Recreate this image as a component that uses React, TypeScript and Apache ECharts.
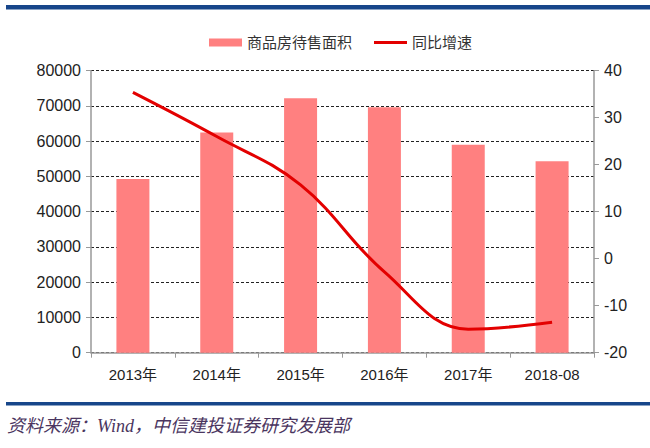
import React, { useEffect, useRef } from "react";
import * as echarts from "echarts";

const categories = ["2013年", "2014年", "2015年", "2016年", "2017年", "2018-08"];
const areaValues = [49300, 62500, 72200, 69600, 59000, 54300];
const growthValues = [35.4, 26.0, 15.7, -2.8, -15.0, -13.5];
const barName = "商品房待售面积";
const lineName = "同比增速";
const sourceText = "资料来源：Wind，中信建投证券研究发展部";

export default function App() {
  const ref = useRef<HTMLDivElement>(null);
  useEffect(() => {
    document.body.style.margin = "0";
    const chart = echarts.init(ref.current!, null, { renderer: "svg" });
    const labelFont = "Liberation Sans, Arial, Noto Sans CJK SC, sans-serif";
    chart.setOption({
      animation: false,
      backgroundColor: "#ffffff",
      textStyle: { fontFamily: labelFont },
      legend: {
        left: 204,
        top: 30,
        itemWidth: 33,
        itemHeight: 8,
        itemGap: 22,
        textStyle: { fontSize: 15, color: "#333" },
        data: [
          { name: barName, icon: "rect" },
          { name: lineName, icon: "path://M0,0h33v3h-33z" },
        ],
      },
      grid: { left: 91, right: 56, top: 70.7, bottom: 95.3 },
      xAxis: {
        type: "category",
        data: categories,
        axisLine: { lineStyle: { color: "#999", width: 1.5 } },
        axisTick: { show: true, length: 5, lineStyle: { color: "#999" } },
        axisLabel: { fontSize: 15, color: "#222", margin: 14 },
      },
      yAxis: [
        {
          type: "value",
          min: 0,
          max: 80000,
          interval: 10000,
          axisLine: { show: true, lineStyle: { color: "#999", width: 1.5 } },
          axisTick: { show: true, length: 5, lineStyle: { color: "#999" } },
          axisLabel: {
            fontSize: 16,
            color: "#222",
            margin: 10,
            formatter: (v: number) => String(v),
          },
          splitLine: {
            show: true,
            lineStyle: { color: "#222", type: [3, 2], width: 1.2 },
          },
        },
        {
          type: "value",
          min: -20,
          max: 40,
          interval: 10,
          position: "right",
          axisLine: { show: true, lineStyle: { color: "#999", width: 1.5 } },
          axisTick: { show: true, length: 5, lineStyle: { color: "#999" } },
          axisLabel: { fontSize: 16, color: "#222", margin: 10 },
          splitLine: { show: false },
        },
      ],
      series: [
        {
          name: barName,
          type: "bar",
          data: areaValues,
          barWidth: 33,
          itemStyle: { color: "#FF8080" },
        },
        {
          name: lineName,
          type: "line",
          yAxisIndex: 1,
          data: growthValues,
          smooth: 0.4,
          symbol: "none",
          lineStyle: { color: "#E30000", width: 3 },
          itemStyle: { color: "#E30000" },
        },
      ],
      graphic: [
        {
          type: "rect",
          shape: { x: 6, y: 5, width: 644, height: 4.5 },
          style: { fill: "#17468A" },
        },
        {
          type: "rect",
          shape: { x: 6, y: 402, width: 644, height: 3.5 },
          style: { fill: "#17468A" },
        },
        {
          type: "text",
          left: 7,
          top: 417,
          style: {
            text: sourceText,
            fontSize: 18,
            fontStyle: "italic",
            fontFamily: "Liberation Serif, Times New Roman, Noto Sans CJK SC, serif",
            fill: "#4A3560",
          },
        },
      ],
    });
    return () => chart.dispose();
  }, []);
  return <div ref={ref} style={{ width: 650, height: 448 }} />;
}
